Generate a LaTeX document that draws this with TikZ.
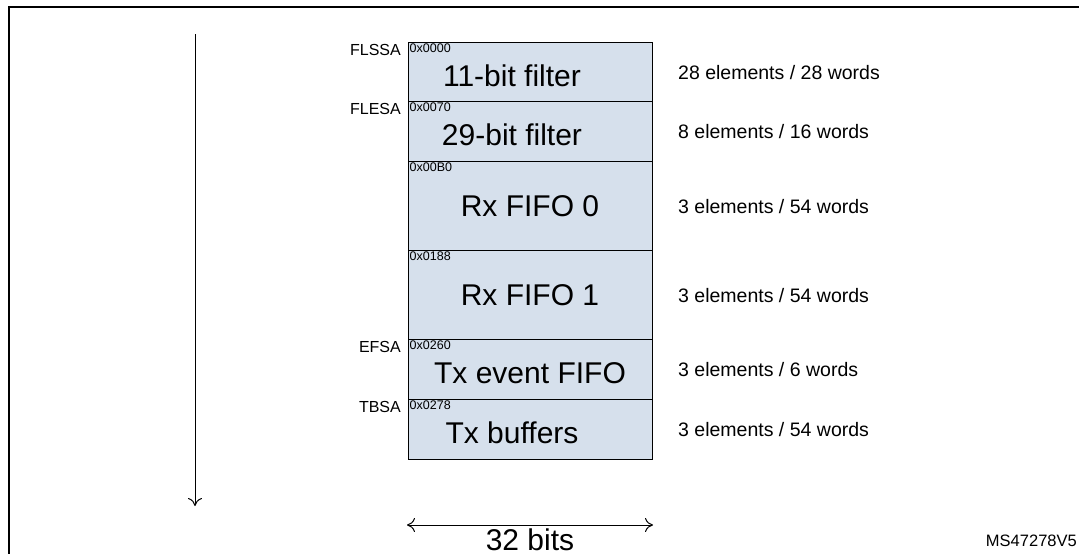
\documentclass[tikz,border=0pt]{standalone}
\usepackage{fontspec}
\setmainfont{Liberation Sans}
\usetikzlibrary{arrows.meta}
\begin{document}
\begin{tikzpicture}[x=1pt,y=-1pt,
  blk/.style={draw,line width=1.3pt,fill=blk,minimum width=244pt,inner sep=0pt,anchor=north west},
  big/.style={font=\fontsize{30}{32}\selectfont,inner sep=0pt},
  addr/.style={font=\fontsize{12.5}{13}\selectfont,anchor=north west,inner sep=1.5pt},
  side/.style={font=\fontsize{16}{17}\selectfont,anchor=east,inner sep=2pt},
  info/.style={font=\fontsize{19.5}{21}\selectfont,anchor=west,inner sep=0pt},
  arr/.style={line width=1pt,-{To[length=8pt,width=14pt]}}]
\definecolor{blk}{RGB}{214,224,236}
\useasboundingbox (0,0) rectangle (1079,554);
\draw[line width=2pt] (9,580) -- (9,7) -- (1079,7);
\foreach \n/\t/\b/\a/\s/\i in {
 a/42/101/0x0000/FLSSA/{28 elements / 28 words},
 b/101/161/0x0070/FLESA/{8 elements / 16 words},
 c/161/250/0x00B0//{3 elements / 54 words},
 d/250/339/0x0188//{3 elements / 54 words},
 e/339/399/0x0260/EFSA/{3 elements / 6 words},
 f/399/459/0x0278/TBSA/{3 elements / 54 words}}{
  \node[blk,minimum height={\b-\t}] (\n) at (408,\t) {};
  \node[addr] (\n a) at (408,\t) {\a};
  \node[side] (\n s) at (403,\t+8) {\s};
  \node[info] (\n i) at (678,{(\t+\b)/2+1}) {\i};
}
\node[big] (al) at (512,{(42+101)/2+4}) {11-bit filter};
\node[big] (bl) at (512,{(101+161)/2+4}) {29-bit filter};
\node[big] (cl) at (530,{(161+250)/2+1}) {Rx FIFO 0};
\node[big] (dl) at (530,{(250+339)/2+1}) {Rx FIFO 1};
\node[big] (el) at (530,{(339+399)/2+4}) {Tx event FIFO};
\node[big] (fl) at (512,{(399+459)/2+4}) {Tx buffers};
\coordinate (vt) at (195,34);
\coordinate (vb) at (195,506);
\draw[arr] (vt) -- (vb);
\coordinate (hl) at (407,525);
\coordinate (hr) at (653,525);
\draw[arr,{To[length=8pt,width=14pt]}-{To[length=8pt,width=14pt]}] (hl) -- (hr);
\node[font=\fontsize{30}{32}\selectfont,inner sep=0pt] (w) at (530,540) {32 bits};
\node[font=\fontsize{16.5}{17}\selectfont,anchor=east,inner sep=0pt] (ms) at (1077,541) {MS47278V5};
\end{tikzpicture}
\end{document}
